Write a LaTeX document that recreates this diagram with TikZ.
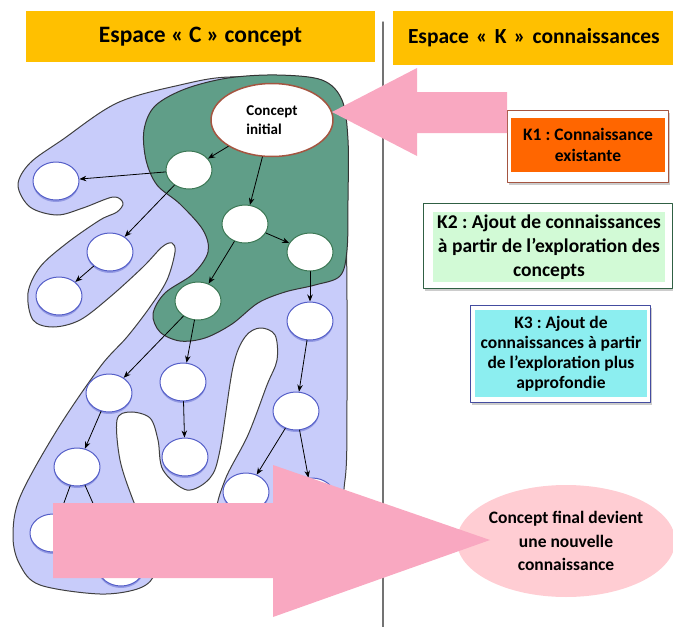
\documentclass[tikz,border=0pt]{standalone}
\usepackage{fontspec}
\setmainfont{Carlito}
\usetikzlibrary{shapes.geometric,arrows.meta,shadows}
\definecolor{jaune}{RGB}{255,192,0}
\definecolor{rose}{RGB}{249,168,193}
\definecolor{roseC}{RGB}{255,205,211}
\definecolor{bleuC}{RGB}{200,204,250}
\definecolor{bleuN}{RGB}{85,95,200}
\definecolor{vertC}{RGB}{96,158,136}
\definecolor{vertN}{RGB}{60,120,85}
\definecolor{brunN}{RGB}{165,85,65}
\definecolor{orangeK}{RGB}{255,102,0}
\definecolor{vertK}{RGB}{210,250,214}
\definecolor{cyanK}{RGB}{140,238,240}
\frenchspacing
\begin{document}
\begin{tikzpicture}[x=1pt,y=-1pt,>={Stealth[length=7pt,width=5.5pt]},line join=round,line cap=round,font=\bfseries,
  cpt/.style={ellipse,fill=white,minimum width=46,minimum height=38,inner sep=0pt,line width=1pt},
  cv/.style={cpt,draw=vertN},
  cb/.style={cpt,draw=bleuN,drop shadow={shadow xshift=0pt,shadow yshift=-2pt,fill=bleuN,opacity=.45}},
  fl/.style={->,line width=.8pt},
  kbox/.style={align=center,inner sep=0pt},
  kframe/.style={fill=white,line width=1pt,drop shadow={shadow xshift=2pt,shadow yshift=-3pt,opacity=.4}},
  entete/.style={fill=jaune,inner sep=0pt,font=\fontsize{23.5}{27}\selectfont\bfseries}]
\useasboundingbox (0,0) rectangle (673,627);
% en-tetes
\node[entete,minimum width=349,minimum height=51] (hc) at (200.5,36.5) {Espace « C » concept};
\node[entete,minimum height=54,inner xsep=15,text width=290,align=left,font=\fontsize{21.5}{26}\selectfont\bfseries] (hk) at (553,38) {Espace « K » connaissances};
\draw[black!55,line width=1.5pt] (383,22) -- (383,627);
% espace C
\draw[black!75,line width=1pt,fill=bleuC] plot[smooth cycle,tension=.55] coordinates {
  (300,82) (230,77) (180,85) (117,103) (62,140) (30,163) (18,185) (30,207) (57,215)
  (83,208) (113,197) (123,203) (117,212) (100,220) (67,243) (40,267) (28,293) (33,320)
  (53,327) (80,320) (110,297) (143,267) (162,247) (172,243) (175,252) (167,280) (150,307)
  (127,337) (100,367) (57,430) (20,497) (13,537) (20,565) (40,585) (100,594) (140,588)
  (155,572) (150,540) (133,500) (120,460) (117,420) (130,412) (150,418) (158,440)
  (163,470) (187,490) (210,478) (220,450) (233,367) (245,337) (260,328) (275,335)
  (277,360) (267,385) (248,435) (225,480) (218,515) (250,530) (330,520) (345,480)
  (347,400) (347,300) (345,200) (335,110)};
\draw[black!80,line width=1pt,fill=vertC] plot[smooth cycle,tension=.55] coordinates {
  (277,75) (322,80) (342,100) (348,140) (348,200) (347,250) (340,276) (315,285)
  (285,292) (258,303) (232,324) (205,338) (180,341) (160,332) (153,314) (165,293)
  (193,274) (208,252) (203,230) (180,204) (157,185) (146,160) (144,130) (155,106)
  (185,89) (228,78)};
\node[ellipse,fill=white,draw=brunN,line width=1.5pt,minimum width=122,minimum height=73,inner sep=0pt,
  align=left,font=\fontsize{15}{19}\selectfont\bfseries] (ci) at (272,120) {Concept\\initial};
\foreach \nom/\pos in {n1/{189,170},n2/{245,224},n3/{310,252},n4/{198,301}}
  \node[cv] (\nom) at (\pos) {};
\foreach \nom/\pos in {l1/{56,181},l2/{110,252},l3/{59,296},b1/{310,321},p1/{109,393},p2/{183,382},
  p3/{296,411},p4/{77,467},p5/{185,457},p6/{246,492},p7/{312,497},p8/{53,533},p9/{121,567}}
  \node[cb] (\nom) at (\pos) {};
\foreach \a/\b in {ci/n1,ci/n2,n1/l1,n1/l2,l2/l3,n2/n3,n2/n4,n3/b1,n4/p1,n4/p2,
  p1/p4,p2/p5,b1/p3,p3/p6,p3/p7,p4/p8,p4/p9}
  \draw[fl] (\a) -- (\b);
% espace K
\draw[kframe,draw=brunN] (507,110) rectangle (668,182);
\node[kbox,fill=orangeK,minimum width=154,minimum height=54,font=\fontsize{17.5}{21.5}\selectfont\bfseries] (k1) at (588,145) {K1 : Connaissance\\existante};
\draw[kframe,draw=vertN!80!black] (423,203) rectangle (672,288);
\node[kbox,fill=vertK,minimum width=232,minimum height=70,font=\fontsize{19.5}{24}\selectfont\bfseries] (k2) at (549,247) {K2 : Ajout de connaissances\\à partir de l’exploration des\\concepts};
\draw[kframe,draw=bleuN!80!black] (470,305) rectangle (650,402);
\node[kbox,fill=cyanK,minimum width=172,minimum height=87,font=\fontsize{17.5}{20}\selectfont\bfseries] (k3) at (561,353.5) {K3 : Ajout de\\connaissances à partir\\de l’exploration plus\\approfondie};
\node[ellipse,fill=roseC,minimum width=216,minimum height=112,inner sep=0pt,align=center,
  font=\fontsize{17.5}{23.5}\selectfont\bfseries] (cf) at (566,541) {Concept final devient\\une nouvelle\\connaissance};
% fleches roses
\fill[rose] (507,92) -- (417,92) -- (417,68) -- (332,112) -- (417,156) -- (417,133) -- (507,133) -- cycle;
\fill[rose] (53,503) -- (273,503) -- (273,465) -- (490,540) -- (273,617) -- (273,578) -- (53,578) -- cycle;
\end{tikzpicture}
\end{document}
